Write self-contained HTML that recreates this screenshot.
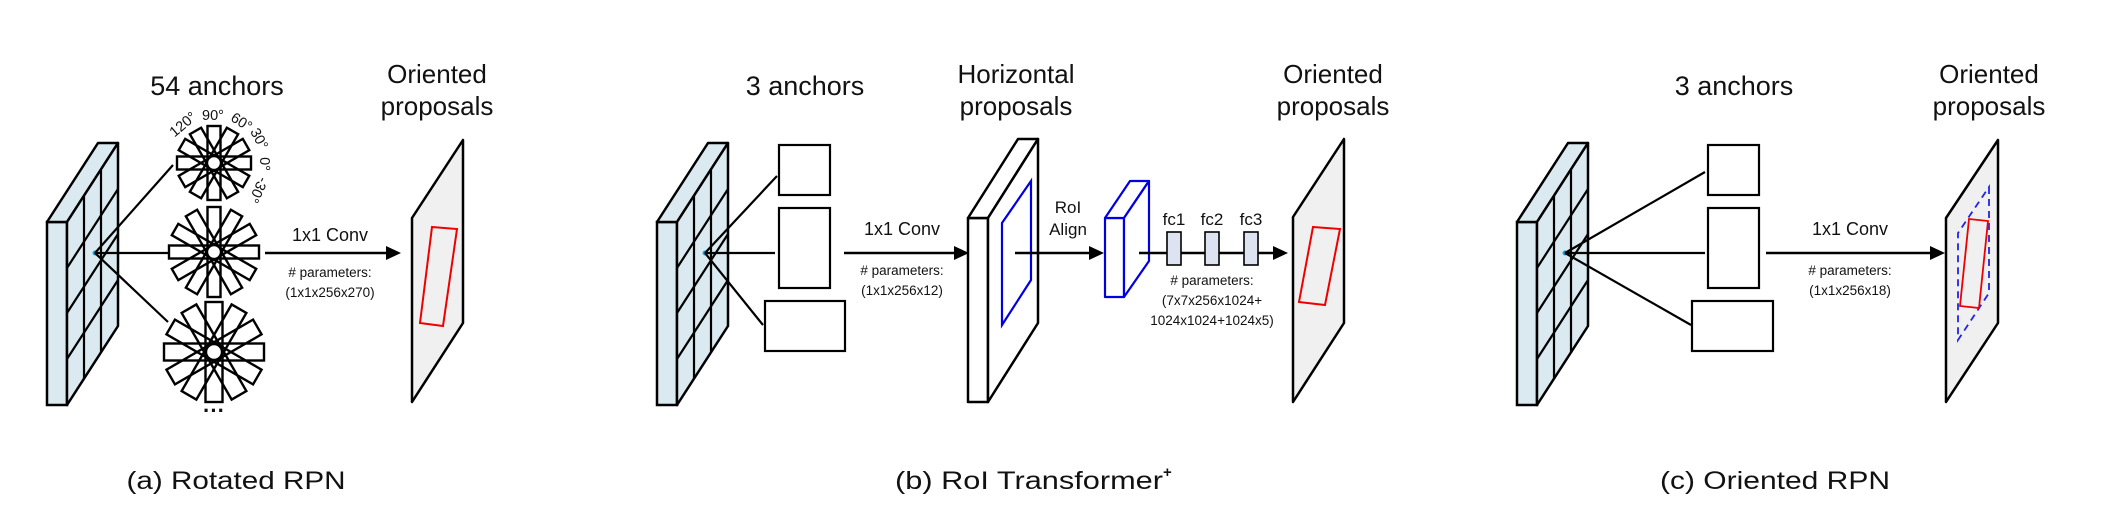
<!DOCTYPE html>
<html><head><meta charset="utf-8"><style>
html,body{margin:0;padding:0;background:#fff;}
svg{display:block;}
text{font-family:"Liberation Sans",sans-serif;fill:#111;}
</style></head><body>
<svg width="2103" height="522" viewBox="0 0 2103 522" xmlns="http://www.w3.org/2000/svg">
<defs>
<g id="fmap">
  <rect x="47" y="222" width="20" height="183" fill="#dbeaf1" stroke="#000" stroke-width="2.5"/>
  <polygon points="47,222 98,143 118,143 67,222" fill="#dbeaf1" stroke="#000" stroke-width="2.5" stroke-linejoin="round"/>
  <polygon points="67,222 118,143 118,326 67,405" fill="#dbeaf1" stroke="#000" stroke-width="2.5" stroke-linejoin="round"/>
  <g stroke="#000" stroke-width="2.2">
    <line x1="84" y1="196" x2="84" y2="379"/>
    <line x1="101" y1="170" x2="101" y2="353"/>
    <line x1="67" y1="268" x2="118" y2="189"/>
    <line x1="67" y1="313" x2="118" y2="234"/>
    <line x1="67" y1="359" x2="118" y2="280"/>
  </g>
  <circle cx="95" cy="253" r="2.5" fill="#1aa3d9"/>
</g>
</defs>

<!-- ============ Panel (a) ============ -->
<use href="#fmap"/>
<g stroke="#000" stroke-width="2.2" fill="none">
  <line x1="95" y1="253" x2="173" y2="165"/>
  <line x1="95" y1="253" x2="168" y2="253"/>
  <line x1="95" y1="253" x2="168" y2="322"/>
</g>
<g stroke="#000" stroke-width="2.4" fill="none">
  <g transform="translate(214,163)">
    <rect x="-37" y="-6.5" width="74" height="13"/>
    <rect x="-37" y="-6.5" width="74" height="13" transform="rotate(-30)"/>
    <rect x="-37" y="-6.5" width="74" height="13" transform="rotate(-60)"/>
    <rect x="-37" y="-6.5" width="74" height="13" transform="rotate(-90)"/>
    <rect x="-37" y="-6.5" width="74" height="13" transform="rotate(-120)"/>
    <rect x="-37" y="-6.5" width="74" height="13" transform="rotate(-150)"/>
    <circle r="7" fill="#fff"/>
  </g>
  <g transform="translate(214,252)">
    <rect x="-45" y="-6.5" width="90" height="13"/>
    <rect x="-45" y="-6.5" width="90" height="13" transform="rotate(-30)"/>
    <rect x="-45" y="-6.5" width="90" height="13" transform="rotate(-60)"/>
    <rect x="-45" y="-6.5" width="90" height="13" transform="rotate(-90)"/>
    <rect x="-45" y="-6.5" width="90" height="13" transform="rotate(-120)"/>
    <rect x="-45" y="-6.5" width="90" height="13" transform="rotate(-150)"/>
    <circle r="7" fill="#fff"/>
  </g>
  <g transform="translate(214,352)">
    <rect x="-50" y="-8.5" width="100" height="17"/>
    <rect x="-50" y="-8.5" width="100" height="17" transform="rotate(-30)"/>
    <rect x="-50" y="-8.5" width="100" height="17" transform="rotate(-60)"/>
    <rect x="-50" y="-8.5" width="100" height="17" transform="rotate(-90)"/>
    <rect x="-50" y="-8.5" width="100" height="17" transform="rotate(-120)"/>
    <rect x="-50" y="-8.5" width="100" height="17" transform="rotate(-150)"/>
    <circle r="8" fill="#fff"/>
  </g>
</g>
<text x="214" y="418" font-size="22" text-anchor="middle" font-weight="bold">···</text>
<g font-size="14.5" text-anchor="middle">
  <text transform="translate(186,128) rotate(-40)">120°</text>
  <text transform="translate(213,120)">90°</text>
  <text transform="translate(239,126) rotate(32)">60°</text>
  <text transform="translate(255,141) rotate(62)">30°</text>
  <text transform="translate(260,164) rotate(90)">0°</text>
  <text transform="translate(254,188) rotate(115)">-30°</text>
</g>
<text x="217" y="95" font-size="27" text-anchor="middle">54 anchors</text>
<line x1="265" y1="253" x2="388" y2="253" stroke="#000" stroke-width="2.5"/>
<polygon points="401,253 386,246 386,260" fill="#000"/>
<text x="330" y="241" font-size="18" text-anchor="middle">1x1 Conv</text>
<text x="330" y="277" font-size="13.5" text-anchor="middle">#  parameters:</text>
<text x="330" y="297" font-size="13.5" text-anchor="middle">(1x1x256x270)</text>
<polygon points="412,218 463,140 463,323 412,402" fill="#f0f0f0" stroke="#000" stroke-width="2.5" stroke-linejoin="round"/>
<polygon points="432,227 457,229 443,326 420,323" fill="none" stroke="#e00" stroke-width="2"/>
<text x="437" y="83" font-size="26" text-anchor="middle">Oriented</text>
<text x="437" y="115" font-size="26" text-anchor="middle">proposals</text>
<text x="236" y="489" font-size="25" text-anchor="middle" textLength="219" lengthAdjust="spacingAndGlyphs">(a) Rotated RPN</text>

<!-- ============ Panel (b) ============ -->
<use href="#fmap" transform="translate(610,0)"/>
<g stroke="#000" stroke-width="2.2" fill="none">
  <rect x="779" y="145" width="51" height="50" fill="#fff"/>
  <rect x="779" y="208" width="51" height="80" fill="#fff"/>
  <rect x="765" y="301" width="80" height="50" fill="#fff"/>
  <line x1="705" y1="253" x2="777" y2="176"/>
  <line x1="705" y1="253" x2="775" y2="253"/>
  <line x1="705" y1="253" x2="763" y2="325"/>
</g>
<text x="805" y="95" font-size="27" text-anchor="middle">3 anchors</text>
<line x1="844" y1="253" x2="956" y2="253" stroke="#000" stroke-width="2.5"/>
<polygon points="969,253 954,246 954,260" fill="#000"/>
<text x="902" y="235" font-size="18" text-anchor="middle">1x1 Conv</text>
<text x="902" y="275" font-size="13.5" text-anchor="middle">#  parameters:</text>
<text x="902" y="295" font-size="13.5" text-anchor="middle">(1x1x256x12)</text>
<g stroke="#000" stroke-width="2.5" fill="#fff" stroke-linejoin="round">
  <rect x="968" y="218" width="20" height="184"/>
  <polygon points="968,218 1018,139 1038,139 988,218"/>
  <polygon points="988,218 1038,139 1038,323 988,402"/>
</g>
<polygon points="1031,181 1031,280 1002,325 1002,223" fill="none" stroke="#0000e0" stroke-width="2.2"/>
<text x="1016" y="83" font-size="26" text-anchor="middle">Horizontal</text>
<text x="1016" y="115" font-size="26" text-anchor="middle">proposals</text>
<line x1="1015" y1="253" x2="1091" y2="253" stroke="#000" stroke-width="2.5"/>
<polygon points="1104,253 1089,246 1089,260" fill="#000"/>
<text x="1068" y="213" font-size="17" text-anchor="middle">RoI</text>
<text x="1068" y="235" font-size="17" text-anchor="middle">Align</text>
<g stroke="#0000e0" stroke-width="2.2" fill="#fff" stroke-linejoin="round">
  <rect x="1105" y="218" width="19" height="79"/>
  <polygon points="1105,218 1130,181 1149,181 1124,218"/>
  <polygon points="1124,218 1149,181 1149,261 1124,297"/>
</g>
<line x1="1139" y1="253" x2="1275" y2="253" stroke="#000" stroke-width="2.5"/>
<polygon points="1288,253 1273,246 1273,260" fill="#000"/>
<g fill="#dde3f0" stroke="#000" stroke-width="1.6">
  <rect x="1167" y="232" width="14" height="33"/>
  <rect x="1205" y="232" width="14" height="33"/>
  <rect x="1244" y="232" width="14" height="33"/>
</g>
<g font-size="17" text-anchor="middle">
  <text x="1174" y="225">fc1</text>
  <text x="1212" y="225">fc2</text>
  <text x="1251" y="225">fc3</text>
</g>
<g font-size="13.5" text-anchor="middle">
  <text x="1212" y="285">#  parameters:</text>
  <text x="1212" y="305">(7x7x256x1024+</text>
  <text x="1212" y="325">1024x1024+1024x5)</text>
</g>
<polygon points="1293,217 1344,139 1344,323 1293,402" fill="#f0f0f0" stroke="#000" stroke-width="2.5" stroke-linejoin="round"/>
<polygon points="1313,227 1340,229 1325,305 1299,302" fill="none" stroke="#e00" stroke-width="2"/>
<text x="1333" y="83" font-size="26" text-anchor="middle">Oriented</text>
<text x="1333" y="115" font-size="26" text-anchor="middle">proposals</text>
<text x="1029" y="489" font-size="25" text-anchor="middle" textLength="268" lengthAdjust="spacingAndGlyphs">(b) RoI Transformer</text>
<text x="1163" y="477" font-size="15" font-weight="bold">+</text>

<!-- ============ Panel (c) ============ -->
<use href="#fmap" transform="translate(1470,0)"/>
<g stroke="#000" stroke-width="2.2" fill="none">
  <rect x="1708" y="145" width="51" height="50" fill="#fff"/>
  <rect x="1708" y="208" width="51" height="80" fill="#fff"/>
  <rect x="1692" y="301" width="81" height="50" fill="#fff"/>
  <line x1="1565" y1="253" x2="1705" y2="172"/>
  <line x1="1565" y1="253" x2="1705" y2="253"/>
  <line x1="1565" y1="253" x2="1691" y2="325"/>
</g>
<text x="1734" y="95" font-size="27" text-anchor="middle">3 anchors</text>
<line x1="1766" y1="253" x2="1932" y2="253" stroke="#000" stroke-width="2.5"/>
<polygon points="1945,253 1930,246 1930,260" fill="#000"/>
<text x="1850" y="235" font-size="18" text-anchor="middle">1x1 Conv</text>
<text x="1850" y="275" font-size="13.5" text-anchor="middle">#  parameters:</text>
<text x="1850" y="295" font-size="13.5" text-anchor="middle">(1x1x256x18)</text>
<polygon points="1946,218 1998,140 1998,323 1946,402" fill="#f0f0f0" stroke="#000" stroke-width="2.5" stroke-linejoin="round"/>
<polygon points="1989,187 1989,293 1958,340 1958,233" fill="none" stroke="#2222ee" stroke-width="1.8" stroke-dasharray="7,5"/>
<polygon points="1969,219 1988,221 1979,308 1960,306" fill="none" stroke="#e00" stroke-width="1.8"/>
<text x="1989" y="83" font-size="26" text-anchor="middle">Oriented</text>
<text x="1989" y="115" font-size="26" text-anchor="middle">proposals</text>
<text x="1775" y="489" font-size="25" text-anchor="middle" textLength="230" lengthAdjust="spacingAndGlyphs">(c) Oriented RPN</text>
</svg>
</body></html>
